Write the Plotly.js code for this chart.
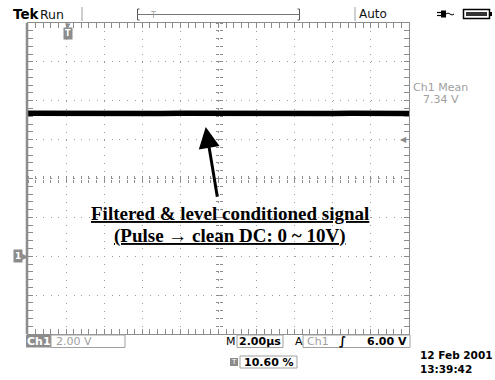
<!DOCTYPE html>
<html><head><meta charset="utf-8">
<script src="https://cdn.plot.ly/plotly-3.0.1.min.js"></script>
<style>html,body{margin:0;padding:0;background:#fff}</style>
</head><body><div id="chart" style="width:495px;height:380px"></div>
<script>
const timeUs = [0,1,2,3,4,5,6,7,8,9,10,11,12,13,14,15,16,17,18,19,20];
const signalVolts = [7.36,7.35,7.37,7.34,7.36,7.38,7.35,7.34,7.36,7.35,7.37,7.34,7.35,7.36,7.34,7.33,7.35,7.36,7.34,7.35,7.35];
const voltRange = [-4, 12];           // 8 divisions x 2.00 V
const timeRange = [0, 20];            // 10 divisions x 2.00 µs
const triggerLevelVolts = 6.00;
const triggerPosUs = 2.12;            // 10.60 % of record
const arrowHead = [9.33, 6.65];
const arrowTail = [9.95, 2.98];
const calloutLines = ['Filtered & level conditioned signal', '(Pulse \u2192 clean DC: 0 ~ 10V)'];
const headerLabels = ['Tek', 'Run', 'Auto'];
const measLabels = ['Ch1 Mean', '7.34 V'];
const bottomLabels = {ch: 'Ch1', vdiv: '2.00 V', m: 'M', tdiv: '2.00\u00b5s', a: 'A', trigCh: 'Ch1', trigLvl: '6.00 V', pos: '10.60 %', date: '12 Feb 2001', time: '13:39:42'};

// ---- pixel helpers for screen furniture (plot area 28..409 x 23..334) ----
const L = 28, R = 409, T = 23, B = 334;
const X = p => (p - L) / (R - L);
const Y = p => (B - p) / (B - T);
const GRAY = '#8c8c8c', LG = '#a0a0a0';
const sans = 'DejaVu Sans';

const frameAxis = (dt, mdt, dash) => ({
  range: null, dtick: dt, tick0: 0, showgrid: true, gridcolor: '#9a9a9a', gridwidth: 1, griddash: dash,
  zeroline: false, showticklabels: false, showline: true, linecolor: GRAY, linewidth: 1, mirror: 'allticks',
  ticks: 'inside', ticklen: 5, tickcolor: GRAY, tickwidth: 1,
  minor: {dtick: mdt, tick0: 0, ticks: 'inside', ticklen: 3, tickcolor: GRAY, tickwidth: 1, showgrid: false},
  fixedrange: true
});
const centerAxis = (dt, mdt, extra) => Object.assign({
  anchor: 'free', position: 0.5, dtick: dt, tick0: 0, showgrid: false, zeroline: false, showticklabels: false,
  showline: false, ticks: 'outside', ticklen: 3, tickcolor: GRAY, tickwidth: 1,
  minor: {dtick: mdt, tick0: 0, ticks: 'outside', ticklen: 3, tickcolor: GRAY, tickwidth: 1, showgrid: false},
  fixedrange: true
}, extra);

const xaxis = frameAxis(2, 0.4, '1px,6.775px'); xaxis.range = timeRange;
const yaxis = frameAxis(2, 0.4, '1px,6.62px'); yaxis.range = voltRange;

const traces = [
  {x: timeUs, y: signalVolts, mode: 'lines', line: {color: '#000', width: 5.5}, hoverinfo: 'skip', showlegend: false},
  {x: [], y: [], xaxis: 'x2', yaxis: 'y', showlegend: false},
  {x: [], y: [], xaxis: 'x3', yaxis: 'y', showlegend: false},
  {x: [], y: [], xaxis: 'x', yaxis: 'y2', showlegend: false},
  {x: [], y: [], xaxis: 'x', yaxis: 'y3', showlegend: false}
];

const ann = (text, px, py, opts) => Object.assign({
  text, xref: 'paper', yref: 'paper', x: X(px), y: Y(py), showarrow: false,
  xanchor: 'left', yanchor: 'middle', font: {family: sans, size: 11, color: '#000'}
}, opts || {});

const annotations = [
  // header
  ann('<b>' + headerLabels[0] + '</b>', 11, 14, {font: {family: sans, size: 13.5, color: '#000'}}),
  ann(headerLabels[1], 38, 14, {font: {family: sans, size: 12.5, color: '#111'}}),
  ann(headerLabels[2], 357, 14, {font: {family: sans, size: 12, color: '#111'}}),
  ann('T', 153, 15, {xanchor: 'center', font: {family: sans, size: 8, color: LG}}),
  // right measurement readout
  ann(measLabels[0], 411, 87, {font: {family: sans, size: 11, color: LG}}),
  ann(measLabels[1], 421, 100, {font: {family: sans, size: 11, color: LG}}),
  // bottom readouts
  ann('<b>' + bottomLabels.ch + '</b>', 38.5, 341, {xanchor: 'center', font: {family: sans, size: 11, color: '#fff'}}),
  ann(bottomLabels.vdiv, 54, 341, {font: {family: sans, size: 11, color: LG}}),
  ann(bottomLabels.m, 231, 341, {xanchor: 'center', font: {family: sans, size: 11, color: '#000'}}),
  ann('<b>' + bottomLabels.tdiv + '</b>', 260, 341, {xanchor: 'center', font: {family: sans, size: 11, color: '#000'}}),
  ann(bottomLabels.a, 298.5, 341, {xanchor: 'center', font: {family: sans, size: 11, color: '#000'}}),
  ann(bottomLabels.trigCh, 305, 341, {font: {family: sans, size: 11, color: LG}}),
  ann('<b>\u222b</b>', 342, 341, {xanchor: 'center', font: {family: sans, size: 12, color: '#000'}}),
  ann('<b>' + bottomLabels.trigLvl + '</b>', 409, 341, {xanchor: 'right', font: {family: sans, size: 11, color: '#000'}}),
  ann('<b>' + bottomLabels.pos + '</b>', 242, 362, {font: {family: sans, size: 11, color: '#000'}}),
  ann('T', 234, 362, {xanchor: 'center', font: {family: sans, size: 7, color: '#fff'}}),
  ann('<b>' + bottomLabels.date + '</b>', 418, 355, {font: {family: sans, size: 10.5, color: '#000'}}),
  ann('<b>' + bottomLabels.time + '</b>', 418, 368.5, {font: {family: sans, size: 10.5, color: '#000'}}),
  // screen markers
  ann('<b>1</b>', 18, 0, {yref: 'y', y: 0, xanchor: 'center', bgcolor: GRAY, borderpad: 1, font: {family: sans, size: 9, color: '#fff'}}),
  ann('\u25b6', 25, 0, {yref: 'y', y: 0, xanchor: 'center', font: {family: sans, size: 8, color: GRAY}}),
  ann('\u25c0', 403, 0, {yref: 'y', y: triggerLevelVolts, xanchor: 'center', font: {family: sans, size: 8, color: GRAY}}),
  ann('\u25bc', 0, 26, {xref: 'x', x: triggerPosUs, xanchor: 'center', font: {family: sans, size: 7, color: GRAY}}),
  ann('<b>T</b>', 0, 34, {xref: 'x', x: triggerPosUs, xanchor: 'center', bgcolor: GRAY, borderpad: 1, font: {family: sans, size: 8, color: '#fff'}}),
  // callout text + arrow
  ann('<b><u>' + calloutLines[0] + '</u></b>', 230, 213, {xanchor: 'center', font: {family: 'Liberation Serif', size: 19, color: '#000'}}),
  ann('<b><u>' + calloutLines[1] + '</u></b>', 230, 236, {xanchor: 'center', font: {family: 'Liberation Serif', size: 19, color: '#000'}}),
  {xref: 'x', yref: 'y', x: arrowHead[0], y: arrowHead[1], axref: 'x', ayref: 'y', ax: arrowTail[0], ay: arrowTail[1],
   text: '', showarrow: true, arrowhead: 2, arrowsize: 1.4, arrowwidth: 3, arrowcolor: '#000', standoff: 0, startstandoff: 0}
];

const line = (x0, y0, x1, y1, color, w) => ({type: 'line', xref: 'paper', yref: 'paper', x0: X(x0), y0: Y(y0), x1: X(x1), y1: Y(y1), line: {color, width: w || 1}});
const rect = (x0, y0, x1, y1, fill, lc, w) => ({type: 'rect', xref: 'paper', yref: 'paper', x0: X(x0), y0: Y(y0), x1: X(x1), y1: Y(y1), fillcolor: fill, line: {color: lc || 'rgba(0,0,0,0)', width: w === undefined ? 1 : w}});
const path = (d, color, w, fill) => ({type: 'path', xref: 'paper', yref: 'paper', path: d, line: {color, width: w || 1}, fillcolor: fill || 'rgba(0,0,0,0)'});
const P = (x, y) => X(x) + ',' + Y(y);

const shapes = [
  // thick left edge
  line(27, 23, 27, 334, GRAY, 2.5),
  // header separators and record bar
  line(82, 7, 82, 21, LG, 1),
  line(355, 7, 355, 21, LG, 1),
  path('M' + P(139.5, 9) + ' L' + P(137.5, 9) + ' L' + P(137.5, 20) + ' L' + P(139.5, 20), '#555', 1),
  path('M' + P(297.5, 9) + ' L' + P(299.5, 9) + ' L' + P(299.5, 20) + ' L' + P(297.5, 20), '#555', 1),
  line(137.5, 14.5, 299.5, 14.5, '#777', 1),
  // plug icon
  rect(441, 10.5, 446, 17.5, '#000', '#000', 0),
  line(437, 12.5, 441, 12.5, '#000', 1.2),
  line(437, 15.5, 441, 15.5, '#000', 1.2),
  path('M' + P(446, 14) + ' Q' + P(448, 12) + ' ' + P(450, 14) + ' T' + P(454, 14), '#000', 1),
  // battery
  rect(463.5, 9.5, 489.5, 18.5, 'rgba(0,0,0,0)', '#000', 1.5),
  rect(466, 12, 487, 16, '#333', '#333', 0),
  rect(489.5, 12, 492, 16, '#000', '#000', 0),
  // bottom boxes
  rect(26, 335, 51, 347.5, GRAY, GRAY, 0),
  rect(51, 335, 125, 347.5, 'rgba(0,0,0,0)', LG, 1),
  rect(237, 335, 283, 347.5, 'rgba(0,0,0,0)', LG, 1),
  rect(303, 335, 410, 347.5, 'rgba(0,0,0,0)', LG, 1),
  rect(240, 356, 297, 368, 'rgba(0,0,0,0)', LG, 1),
  rect(230, 358, 238, 366, GRAY, GRAY, 0)
];

const layout = {
  width: 495, height: 380,
  margin: {l: L, r: 495 - R, t: T, b: 380 - B, pad: 0},
  paper_bgcolor: '#fff', plot_bgcolor: '#fff',
  showlegend: false,
  xaxis, yaxis,
  xaxis2: centerAxis(2, 0.4, {overlaying: 'x', side: 'bottom', range: timeRange}),
  xaxis3: centerAxis(2, 0.4, {overlaying: 'x', side: 'top', range: timeRange}),
  yaxis2: centerAxis(2, 0.4, {overlaying: 'y', side: 'left', range: voltRange}),
  yaxis3: centerAxis(2, 0.4, {overlaying: 'y', side: 'right', range: voltRange}),
  annotations, shapes
};

Plotly.newPlot('chart', traces, layout, {staticPlot: true, displayModeBar: false});
</script></body></html>
